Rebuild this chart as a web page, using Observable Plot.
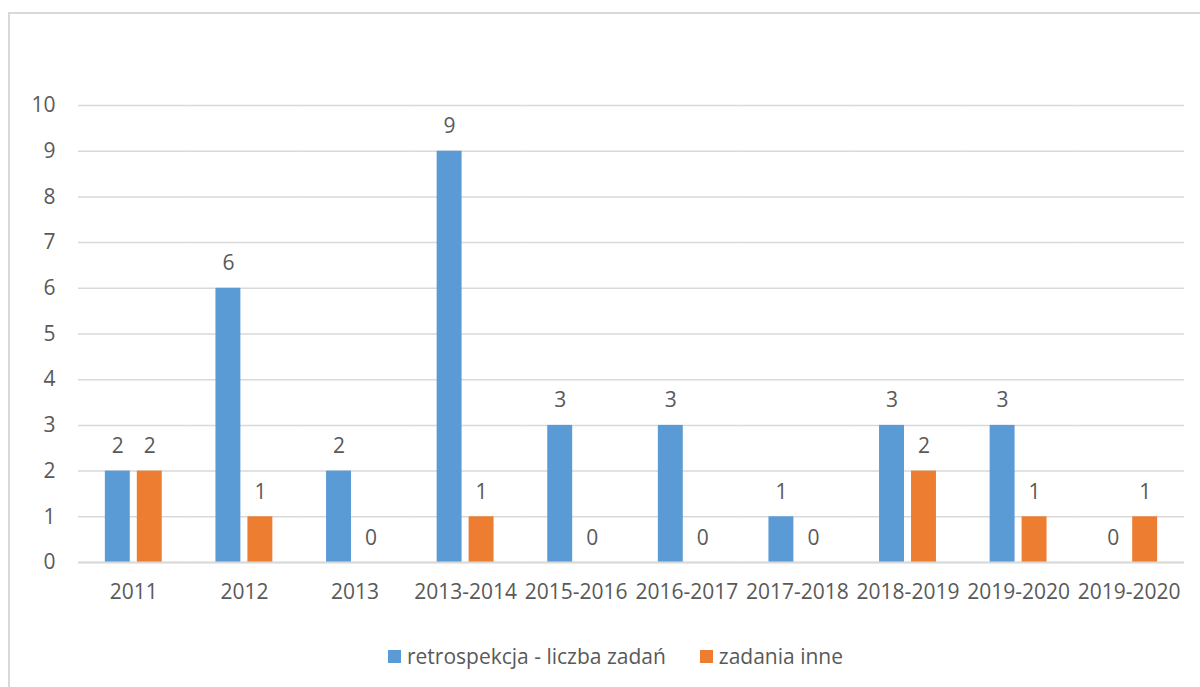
<!DOCTYPE html>
<html>
<head>
<meta charset="utf-8">
<script src="https://cdn.jsdelivr.net/npm/d3@7"></script>
<script src="https://cdn.jsdelivr.net/npm/@observablehq/plot@0.6"></script>
<style>
  html, body { margin: 0; padding: 0; background: #fff; }
  body { width: 1200px; height: 687px; position: relative; overflow: hidden; font-family: "Open Sans", sans-serif; }
  #frame { position: absolute; left: 8px; top: 12px; width: 1250px; height: 760px; border: 2px solid #d9d9d9; box-sizing: border-box; }
  #chart { position: absolute; left: 0; top: 0; }
  #legend { position: absolute; left: 388px; top: 642px; display: flex; align-items: center; font-size: 21px; color: #595959; white-space: nowrap; }
  #legend .sw { display: inline-block; width: 13px; height: 13px; margin-right: 6px; }
  #legend .item { display: flex; align-items: center; margin-right: 34px; }
</style>
</head>
<body>
<div id="frame"></div>
<div id="chart"></div>
<div id="legend"></div>
<script>
const categories = ["2011", "2012", "2013", "2013-2014", "2015-2016", "2016-2017", "2017-2018", "2018-2019", "2019-2020", "2019-2020"];
const seriesNames = ["retrospekcja - liczba zadań", "zadania inne"];
const retrospekcja = [2, 6, 2, 9, 3, 3, 1, 3, 3, 0];
const zadaniaInne = [2, 1, 0, 1, 0, 0, 0, 2, 1, 1];
const colors = ["#5B9BD5", "#ED7D31"];
const yTicks = [0,1,2,3,4,5,6,7,8,9,10];

const data = [];
categories.forEach((c, i) => {
  data.push({idx: i, series: seriesNames[0], value: retrospekcja[i]});
  data.push({idx: i, series: seriesNames[1], value: zadaniaInne[i]});
});

const textColor = "#595959";

const chart = Plot.plot({
  width: 1200,
  height: 610,
  marginLeft: 78,
  marginRight: 16,
  marginTop: 105,
  marginBottom: 48,
  style: {fontFamily: "Open Sans, sans-serif", fontSize: "21px", color: textColor, background: "transparent"},
  fx: {domain: d3.range(categories.length), paddingInner: 0, paddingOuter: 0, round: false, axis: null},
  x: {domain: seriesNames, paddingInner: 0.22, paddingOuter: 0.84, round: false, axis: null},
  y: {domain: [0, 10], axis: null},
  color: {domain: seriesNames, range: colors},
  marks: [
    Plot.gridY(yTicks, {stroke: "#d9d9d9", strokeOpacity: 1, strokeWidth: 1.5}),
    Plot.barY(data, {fx: "idx", x: "series", y: "value", fill: "series"}),
    Plot.ruleY([0], {stroke: "#d9d9d9", strokeWidth: 2}),
    Plot.text(data, {fx: "idx", x: "series", y: "value", text: d => String(d.value), lineAnchor: "bottom", dy: -18, fill: textColor, fontSize: 21}),
    Plot.axisY(yTicks, {tickSize: 0, tickPadding: 23, fill: textColor, fontSize: 21, label: null}),
    Plot.axisFx({anchor: "bottom", tickSize: 0, tickPadding: 22, tickFormat: i => categories[i], fill: textColor, fontSize: 21, label: null})
  ]
});
document.getElementById("chart").appendChild(chart);

const legend = document.getElementById("legend");
seriesNames.forEach((name, i) => {
  const item = document.createElement("span");
  item.className = "item";
  const sw = document.createElement("span");
  sw.className = "sw";
  sw.style.background = colors[i];
  item.appendChild(sw);
  item.appendChild(document.createTextNode(name));
  legend.appendChild(item);
});
</script>
</body>
</html>
